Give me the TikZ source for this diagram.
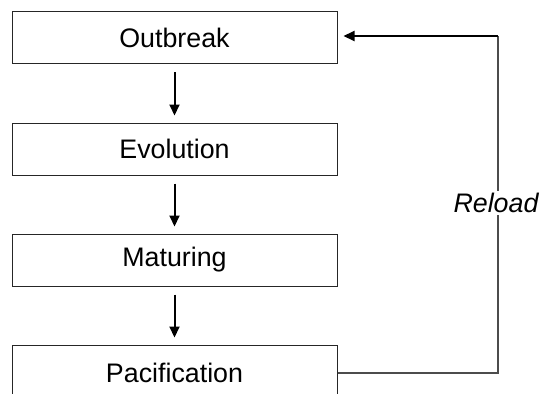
\documentclass[tikz,border=0pt]{standalone}
\usepackage{fontspec}
\setmainfont{Liberation Sans}
\usetikzlibrary{arrows.meta,calc}
\begin{document}
\begin{tikzpicture}[x=1pt,y=-1pt,
  stagebox/.style={draw=black!85,line width=1pt,minimum width=325pt,minimum height=52pt,inner sep=0pt,font=\fontsize{26.8}{32}\selectfont,anchor=north},
  flowarrow/.style={line width=2pt,-{Triangle[length=11pt,width=10pt]}},
  loopline/.style={draw=black!70,line width=1.2pt}
]
\useasboundingbox (0,0) rectangle (542,394);
\clip (0,0) rectangle (542,394);
\node[stagebox] (out) at (174.5,11) {Outbreak};
\node[stagebox] (evo) at (174.5,122.5) {Evolution};
\node[stagebox] (mat) at (174.5,233.5) {Maturing};
\node[stagebox,minimum height=56pt] (pac) at (174.5,344.5) {Pacification};
\draw[flowarrow] ($(out.south)+(0,8)$) -- ($(evo.north)+(0,-7)$);
\draw[flowarrow] ($(evo.south)+(0,8)$) -- ($(mat.north)+(0,-7)$);
\draw[flowarrow] ($(mat.south)+(0,8)$) -- ($(pac.north)+(0,-7)$);
\coordinate (tc) at (498,36);
\draw[loopline] (pac.east) -| (tc);
\draw[flowarrow,shorten >=6pt] (tc) -- (out.east |- tc);
\node[fill=white,inner sep=2pt,font=\fontsize{26.8}{32}\selectfont\itshape] (rl) at (496,203) {Reload};
\end{tikzpicture}
\end{document}
